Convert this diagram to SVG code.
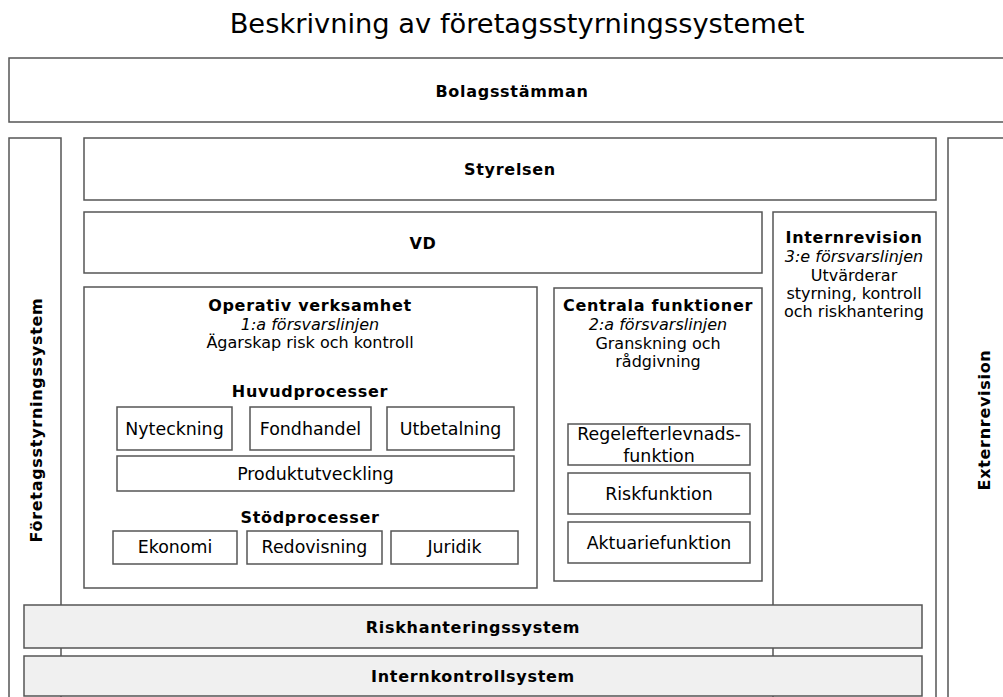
<svg xmlns="http://www.w3.org/2000/svg" width="1003" height="697" viewBox="0 0 1003 697">
<style>
  text { font-family: "DejaVu Sans", Verdana, sans-serif; font-size: 16px; fill: #000; text-anchor: middle; }
  .title { font-size: 27.3px; }
  .b { font-weight: bold; letter-spacing: 0.7px; }
  .i { font-style: italic; }
  .t { font-size: 17.4px; }
  .box { fill: #fff; stroke: #555; stroke-width: 1.5; }
  .bar { fill: #f0f0f0; stroke: #555; stroke-width: 1.5; }
</style>
<rect width="1003" height="697" fill="#fff"/>
<text class="title" x="517" y="33">Beskrivning av företagsstyrningssystemet</text>

<g id="bolagsstamman">
  <rect class="box" x="9" y="58" width="1000" height="64"/>
  <text class="b" x="512" y="97">Bolagsstämman</text>
</g>

<g id="foretagsstyrningssystem">
  <rect class="box" x="9" y="138" width="52" height="580"/>
  <text class="b" transform="translate(42,420) rotate(-90)">Företagsstyrningssystem</text>
</g>

<g id="externrevision">
  <rect class="box" x="948" y="138" width="60" height="580"/>
  <text class="b" transform="translate(990,420) rotate(-90)">Externrevision</text>
</g>

<g id="styrelsen">
  <rect class="box" x="84" y="138" width="852" height="62"/>
  <text class="b" x="510" y="175">Styrelsen</text>
</g>

<g id="vd">
  <rect class="box" x="84" y="212" width="678" height="61"/>
  <text class="b" x="423" y="249">VD</text>
</g>

<g id="internrevision">
  <rect class="box" x="773" y="212" width="163" height="506"/>
  <text class="b" x="854" y="243">Internrevision</text>
  <text class="i" x="854" y="262">3:e försvarslinjen</text>
  <text x="854" y="281">Utvärderar</text>
  <text x="854" y="299">styrning, kontroll</text>
  <text x="854" y="317">och riskhantering</text>
</g>

<g id="operativ">
  <rect class="box" x="84" y="287" width="453" height="301"/>
  <text class="b" x="310" y="311">Operativ verksamhet</text>
  <text class="i" x="310" y="330">1:a försvarslinjen</text>
  <text x="310" y="348">Ägarskap risk och kontroll</text>
  <text class="b" x="310" y="397">Huvudprocesser</text>
  <text class="b" x="310" y="523">Stödprocesser</text>
</g>

<g id="nyteckning">
  <rect class="box" x="117" y="407" width="115" height="43"/>
  <text class="t" x="174.5" y="435">Nyteckning</text>
</g>
<g id="fondhandel">
  <rect class="box" x="250" y="407" width="121" height="43"/>
  <text class="t" x="310.5" y="435">Fondhandel</text>
</g>
<g id="utbetalning">
  <rect class="box" x="387" y="407" width="127" height="43"/>
  <text class="t" x="450.5" y="435">Utbetalning</text>
</g>
<g id="produktutveckling">
  <rect class="box" x="117" y="456" width="397" height="35"/>
  <text class="t" x="315.5" y="480">Produktutveckling</text>
</g>
<g id="ekonomi">
  <rect class="box" x="113" y="531" width="124" height="33"/>
  <text class="t" x="175" y="553">Ekonomi</text>
</g>
<g id="redovisning">
  <rect class="box" x="247" y="531" width="135" height="33"/>
  <text class="t" x="314.5" y="553">Redovisning</text>
</g>
<g id="juridik">
  <rect class="box" x="391" y="531" width="127" height="33"/>
  <text class="t" x="454.5" y="553">Juridik</text>
</g>

<g id="centrala">
  <rect class="box" x="554" y="288" width="208" height="293"/>
  <text class="b" x="658" y="311">Centrala funktioner</text>
  <text class="i" x="658" y="330">2:a försvarslinjen</text>
  <text x="658" y="349">Granskning och</text>
  <text x="658" y="367">rådgivning</text>
</g>
<g id="regelefterlevnad">
  <rect class="box" x="568" y="424" width="182" height="41"/>
  <text class="t" x="659" y="440">Regelefterlevnads-</text>
  <text class="t" x="659" y="462">funktion</text>
</g>
<g id="riskfunktion">
  <rect class="box" x="568" y="473" width="182" height="41"/>
  <text class="t" x="659" y="500">Riskfunktion</text>
</g>
<g id="aktuariefunktion">
  <rect class="box" x="568" y="522" width="182" height="41"/>
  <text class="t" x="659" y="549">Aktuariefunktion</text>
</g>

<g id="riskhanteringssystem">
  <rect class="bar" x="24" y="605" width="898" height="43"/>
  <text class="b" x="473" y="633">Riskhanteringssystem</text>
</g>
<g id="internkontrollsystem">
  <rect class="bar" x="24" y="656" width="898" height="40"/>
  <text class="b" x="473" y="682">Internkontrollsystem</text>
</g>

<g id="connectors"></g>
</svg>
